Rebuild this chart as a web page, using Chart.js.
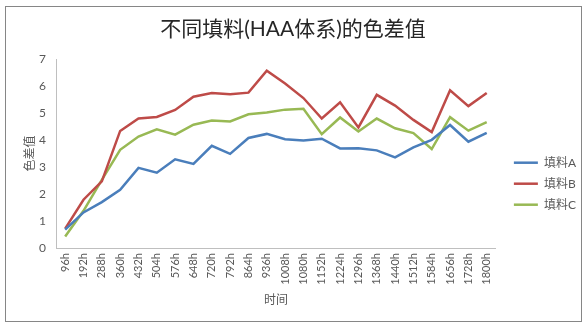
<!DOCTYPE html>
<html>
<head>
<meta charset="utf-8">
<script src="https://cdn.jsdelivr.net/npm/chart.js@4/dist/chart.umd.min.js"></script>
<style>
  html, body { margin: 0; padding: 0; background: #ffffff; }
  #wrap { position: relative; width: 586px; height: 327px; }
  #frame {
    position: absolute; left: 5px; top: 6px; width: 575px; height: 314px;
    border: 1px solid #868686; pointer-events: none;
  }
</style>
</head>
<body>
<div id="wrap">
  <canvas id="chart" width="586" height="327"></canvas>
  <div id="frame"></div>
</div>
<script>
const hours = [
  "96h", "192h", "288h", "360h", "432h", "504h", "576h", "648h", "720h", "792h", "864h", "936h",
  "1008h", "1080h", "1152h", "1224h", "1296h", "1368h", "1440h", "1512h", "1584h", "1656h", "1728h", "1800h",
];

const fillerA = [
  0.68, 1.32, 1.70, 2.16, 2.97, 2.79, 3.29, 3.12, 3.79, 3.49, 4.08, 4.23,
  4.03, 3.99, 4.05, 3.69, 3.70, 3.62, 3.36, 3.73, 4.01, 4.56, 3.94, 4.27,
];
const fillerB = [
  0.72, 1.79, 2.47, 4.34, 4.80, 4.86, 5.12, 5.61, 5.75, 5.70, 5.76, 6.57,
  6.10, 5.56, 4.80, 5.40, 4.47, 5.68, 5.28, 4.75, 4.30, 5.85, 5.26, 5.75,
];
const fillerC = [
  0.43, 1.38, 2.53, 3.64, 4.13, 4.40, 4.20, 4.57, 4.73, 4.69, 4.96, 5.02,
  5.13, 5.16, 4.22, 4.84, 4.32, 4.80, 4.44, 4.26, 3.67, 4.85, 4.35, 4.67,
];

const seriesNames = ["填料A", "填料B", "填料C"];

const palette = {
  blue: "#4a7ebb",
  red: "#be4b48",
  green: "#98b954",
  axis: "#bfbfbf",
  text: "#595959",
};

const FONT = "Lato, 'Noto Sans CJK SC', sans-serif";

const lineDefaults = {
  borderWidth: 2.5,
  pointRadius: 0,
  pointHoverRadius: 0,
  tension: 0,
  fill: false,
};

new Chart(document.getElementById("chart"), {
  type: "line",
  data: {
    labels: hours,
    datasets: [
      { label: seriesNames[0], data: fillerA, borderColor: palette.blue, backgroundColor: palette.blue, ...lineDefaults },
      { label: seriesNames[1], data: fillerB, borderColor: palette.red, backgroundColor: palette.red, ...lineDefaults },
      { label: seriesNames[2], data: fillerC, borderColor: palette.green, backgroundColor: palette.green, ...lineDefaults },
    ],
  },
  options: {
    responsive: false,
    animation: false,
    events: [],
    layout: { padding: { left: 0, right: 0, top: 0, bottom: 10 } },
    plugins: {
      title: {
        display: true,
        text: "不同填料(HAA体系)的色差值",
        color: "#262626",
        font: { family: FONT, size: 21, weight: "normal", lineHeight: 1.2 },
        padding: { top: 17, bottom: 17 },
      },
      legend: {
        position: "right",
        align: "center",
        // empty title only pushes the legend items down a little
        title: { display: true, text: "", padding: { top: 18, bottom: 18 } },
        labels: {
          usePointStyle: true,
          pointStyle: "line",
          pointStyleWidth: 24,
          padding: 9,
          color: palette.text,
          font: { family: FONT, size: 12 },
        },
      },
      tooltip: { enabled: false },
    },
    scales: {
      x: {
        offset: true,
        grid: { display: false, drawTicks: false },
        border: { display: true, color: palette.axis, width: 1 },
        ticks: {
          color: palette.text,
          font: { family: FONT, size: 11 },
          minRotation: 90,
          maxRotation: 90,
          autoSkip: false,
          padding: 5,
        },
        title: {
          display: true,
          text: "时间",
          color: palette.text,
          font: { family: FONT, size: 12 },
          padding: { top: 4, bottom: 10 },
        },
        afterFit: (s) => { s.height = 69; },
      },
      y: {
        min: 0,
        max: 7,
        grid: { display: false, drawTicks: false },
        border: { display: true, color: palette.axis, width: 1 },
        ticks: {
          stepSize: 1,
          color: palette.text,
          font: { family: FONT, size: 12 },
          padding: 10,
        },
        title: {
          display: true,
          text: "色差值",
          color: palette.text,
          font: { family: FONT, size: 12 },
          padding: { top: 23, bottom: 4 },
        },
        afterFit: (s) => { s.width = 56; },
      },
      gap: {
        position: "right",
        display: true,
        grid: { display: false, drawTicks: false },
        border: { display: false },
        ticks: { display: false },
        afterFit: (s) => { s.width = 9; },
      },
    },
  },
});
</script>
</body>
</html>
